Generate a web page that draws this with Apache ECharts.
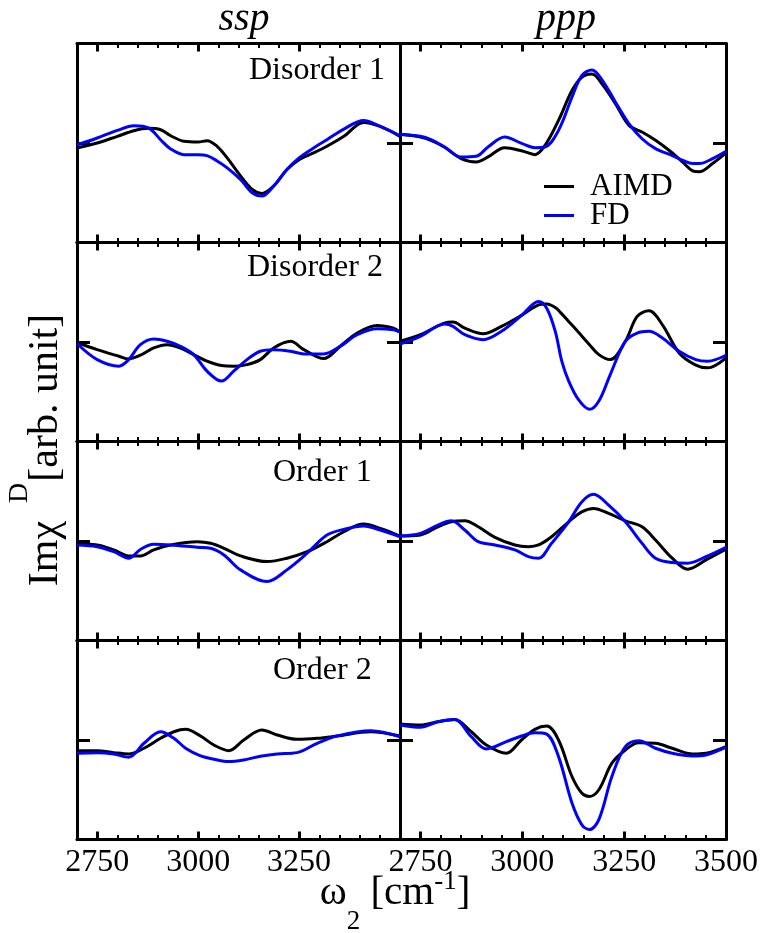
<!DOCTYPE html>
<html>
<head>
<meta charset="utf-8">
<script src="https://cdn.jsdelivr.net/npm/echarts@6/dist/echarts.min.js"></script>
<style>
html, body { margin: 0; padding: 0; background: #fff; }
#chart { width: 761px; height: 933px; }
</style>
</head>
<body>
<div id="chart"></div>
<script>
// ---- spectra: wavenumber (cm^-1) and Im chi(D) in arbitrary units ----
// ssp column
const sspDis1X    = [2700, 2750, 2800, 2841, 2878, 2907, 2932, 2965, 3000, 3022, 3047, 3072, 3105, 3134, 3158, 3187, 3220, 3250, 3286, 3319, 3361, 3410, 3451, 3500];
const sspDis1Aimd = [-5, 0, 6.7, 12.3, 14.7, 13.3, 7.3, 1.7, 1, 2.3, -3.3, -15, -33, -46.7, -50.7, -43.3, -26.7, -16.7, -10, -3.3, 6.7, 20.7, 16.7, 6.7];
const sspDis1Fd   = [-2, 5, 12.7, 17.3, 15, 3.3, -6, -11.7, -11.7, -12.7, -18, -25, -36.7, -50, -53.3, -43.3, -26.7, -15, -5, 3.3, 14, 22.7, 16.7, 7.3];

const sspDis2X    = [2700, 2750, 2804, 2828, 2857, 2890, 2923, 2956, 2989, 3022, 3058, 3088, 3121, 3154, 3187, 3229, 3262, 3311, 3352, 3394, 3443, 3484, 3500];
const sspDis2Aimd = [-0.5, -7.7, -14.3, -17, -13.3, -6, -2.7, -6, -12.7, -19.3, -23.7, -24.3, -22.7, -17.7, -6, 0.7, -7.7, -16.7, -4.3, 9, 16.7, 14, 10];
const sspDis2Fd   = [-1.5, -17.7, -24.3, -17.7, -2.7, 3, 0.7, -4.3, -12.7, -29.3, -39.3, -29.3, -17.7, -9.3, -7.7, -9.3, -12, -12, -4.3, 7.3, 13.3, 12.3, 10];

const sspOrd1X    = [2700, 2750, 2791, 2828, 2857, 2890, 2932, 2998, 3031, 3064, 3105, 3171, 3220, 3270, 3319, 3361, 3410, 3451, 3500];
const sspOrd1Aimd = [-3, -4, -9, -15, -15, -9, -4, -0.7, -2.3, -7.3, -15, -20.7, -17.3, -10.7, -0.7, 9.3, 17, 12.7, 5];
const sspOrd1Fd   = [-4, -5.7, -10.7, -17.3, -8.5, -3.3, -4, -6.3, -7.3, -14, -29, -40.7, -29, -12.3, 6, 11.7, 15, 11, 4.3];

const sspOrd2X    = [2700, 2750, 2791, 2828, 2866, 2907, 2940, 2969, 3006, 3039, 3076, 3113, 3158, 3196, 3245, 3295, 3344, 3427, 3500];
const sspOrd2Aimd = [-10.7, -10.7, -12.7, -14, -8.3, 1.7, 8.3, 10.7, 4, -5, -10.7, 0, 10, 5, 0.7, 1.7, 4, 8.3, 4];
const sspOrd2Fd   = [-13.3, -12.7, -14, -17.3, -3.3, 8.3, 1.7, -8.3, -16, -19.3, -21.7, -20, -16, -14, -12.7, -3.3, 4, 9.3, 3.3];

// ppp column
const pppDis1X    = [2700, 2750, 2776, 2809, 2850, 2887, 2916, 2957, 3000, 3031, 3056, 3089, 3122, 3146, 3171, 3196, 3229, 3262, 3294, 3327, 3360, 3393, 3418, 3434, 3467, 3500];
const pppDis1Aimd = [8.7, 6, 2.7, -4, -15.7, -19, -14, -4.7, -8, -11.7, -2.3, 22.7, 52.7, 66, 69.3, 59.3, 39.3, 17.7, 11, 2.7, -7.3, -19, -28, -29, -20.7, -10];
const pppDis1Fd   = [8.7, 6.7, 3.3, -4, -14, -13.3, -4, 6, -0.7, -4.7, -4, 12.7, 46, 67.7, 73.3, 63.3, 41, 19.3, 4.3, -5.7, -11.3, -17.3, -20.7, -20.7, -15.7, -8.3];

const pppDis2X    = [2700, 2750, 2809, 2830, 2859, 2904, 2949, 3000, 3040, 3060, 3081, 3097, 3114, 3138, 3165, 3188, 3216, 3253, 3282, 3311, 3344, 3385, 3426, 3455, 3500];
const pppDis2Aimd = [0.7, 7.3, 19, 20, 14, 8.3, 15.7, 27.3, 37.3, 38.3, 34.7, 28.3, 20.7, 9.7, -2.7, -12.7, -17.7, 0.7, 25.7, 31.3, 17.3, -11, -23.3, -26, -16];
const pppDis2Fd   = [-2, 5.7, 18, 15.7, 7.3, 2.3, 10.7, 27.3, 40.7, 34, 10.7, -19.3, -39.3, -58, -67.7, -59.3, -32.7, 0.7, 9, 10.7, 4, -9.3, -17.7, -19.3, -13.3];

const pppOrd1X    = [2700, 2750, 2793, 2826, 2859, 2892, 2933, 2982, 3015, 3040, 3072, 3114, 3146, 3175, 3212, 3253, 3294, 3327, 3368, 3406, 3451, 3500];
const pppOrd1Aimd = [5, 6, 14.3, 19.3, 20.3, 14.3, 3.7, -4, -5.7, -4, 4.3, 19.3, 29.3, 32.7, 27.7, 20.3, 14.3, 1, -17.3, -28.3, -19, -8.3];
const pppOrd1Fd   = [5, 7.7, 16, 20.3, 11, -0.7, -4, -9, -15.7, -17.3, -2.3, 19.3, 39.3, 47, 36, 19.3, -2.3, -17.3, -21.7, -22.3, -15.7, -6.3];

const pppOrd2X    = [2700, 2750, 2793, 2834, 2875, 2912, 2961, 2998, 3031, 3060, 3089, 3122, 3146, 3165, 3188, 3220, 3253, 3286, 3327, 3368, 3418, 3451, 3500];
const pppOrd2Aimd = [16, 15, 18.3, 20.7, 8.3, -5, -13.3, 0, 10.7, 14, 0, -36.7, -53.3, -56.7, -50, -23.3, -10, -2.7, -3.3, -8.3, -14, -13.3, -6.7];
const pppOrd2Fd   = [15, 12.7, 18.3, 20.7, 3.3, -9, -1.7, 4, 7.3, 6, -16.7, -63.3, -85, -90, -80, -36.7, -6.7, -0.7, -8.3, -13.3, -16, -15, -7.3];

// ---- axis ticks and texts ----
const xMin = 2700, xMax = 3500, xMinorStep = 50;
const xMajorTicks = [2750, 3000, 3250, 3500];
const xLabelsLeft = [2750, 3000, 3250];
const xLabelsRight = [2750, 3000, 3250, 3500];
const yMin = -100, yMax = 100;
const yTicks = [0];
const columnTitles = ['ssp', 'ppp'];
const panelNames = ['Disorder 1', 'Disorder 2', 'Order 1', 'Order 2'];
const seriesNames = ['AIMD', 'FD'];
// axis titles as [text, role] pieces: m = main, u = superscript, d = subscript
const yTitlePieces = [['Imχ', 'm'], ['D', 'u'], ['[arb. unit]', 'm']];
const xTitlePieces = [['ω', 'm'], ['2', 'd'], [' [cm', 'm'], ['-1', 'u'], [']', 'm']];

// panels in row order, [ssp, ppp] per row
const panels = [
  [{ x: sspDis1X, a: sspDis1Aimd, f: sspDis1Fd }, { x: pppDis1X, a: pppDis1Aimd, f: pppDis1Fd }],
  [{ x: sspDis2X, a: sspDis2Aimd, f: sspDis2Fd }, { x: pppDis2X, a: pppDis2Aimd, f: pppDis2Fd }],
  [{ x: sspOrd1X, a: sspOrd1Aimd, f: sspOrd1Fd }, { x: pppOrd1X, a: pppOrd1Aimd, f: pppOrd1Fd }],
  [{ x: sspOrd2X, a: sspOrd2Aimd, f: sspOrd2Fd }, { x: pppOrd2X, a: pppOrd2Aimd, f: pppOrd2Fd }]
];

// ---- layout ----
const SERIF = '"Liberation Serif", "Times New Roman", Times, serif';
const colLeft = [77, 400];
const colWidth = [323, 326];
const rowTop = [43.5, 242.5, 441.5, 640.5];
const rowHeight = 199;
const labelPos = [[249, 71], [247, 267.5], [273, 472.5], [273, 671]];
const AIMD_COLOR = '#000000';
const FD_COLOR = '#0000ff';
const MID = 0.3375; // distance from text middle to baseline, in em

const zip = (xs, ys) => xs.map((v, i) => [v, ys[i]]);

const measureCtx = document.createElement('canvas').getContext('2d');
function textWidth(text, font) {
  measureCtx.font = font;
  return measureCtx.measureText(text).width;
}

// lays pieces along a baseline starting at local x = 0; returns children and total length
function titlePieces(pieces, sizes, shifts, gaps) {
  const children = [];
  let pos = 0;
  pieces.forEach(([txt, role], i) => {
    const fs = sizes[role];
    const font = fs + 'px ' + SERIF;
    pos += (gaps && gaps[i]) || 0;
    children.push({
      type: 'text', x: pos, y: shifts[role] - MID * fs,
      style: { text: txt, font: font, fill: '#000', align: 'left', verticalAlign: 'middle' }
    });
    pos += textWidth(txt, font);
  });
  return { children, length: pos };
}

const grids = [], xAxes = [], yAxes = [], series = [], graphics = [];

for (let r = 0; r < 4; r++) {
  for (let c = 0; c < 2; c++) {
    const rect = { left: colLeft[c], width: colWidth[c], top: rowTop[r], height: rowHeight };

    // main grid: frame, minor ticks, zero ticks, curves
    const g = grids.length;
    grids.push(Object.assign({ containLabel: false }, rect));
    const minorX = pos => ({
      gridIndex: g, type: 'value', position: pos, min: xMin, max: xMax, interval: xMinorStep,
      axisLine: { show: true, onZero: false, lineStyle: { color: '#000', width: 3 } },
      axisTick: { show: true, inside: true, length: 4.5, lineStyle: { color: '#000', width: 2 } },
      axisLabel: { show: false }, splitLine: { show: false }
    });
    const xi = xAxes.length;
    xAxes.push(minorX('bottom'));
    xAxes.push(minorX('top'));
    const zeroY = pos => ({
      gridIndex: g, type: 'value', position: pos, min: yMin, max: yMax,
      axisLine: { show: true, onZero: false, lineStyle: { color: '#000', width: 3 } },
      axisTick: { show: true, inside: true, length: 13, customValues: yTicks, lineStyle: { color: '#000', width: 3 } },
      axisLabel: { show: false }, splitLine: { show: false }
    });
    const yi = yAxes.length;
    yAxes.push(zeroY('left'));
    yAxes.push(zeroY('right'));

    const p = panels[r][c];
    series.push({
      type: 'line', name: seriesNames[0], xAxisIndex: xi, yAxisIndex: yi,
      data: zip(p.x, p.a), smooth: 0.35, symbol: 'none', showSymbol: false, clip: true,
      lineStyle: { color: AIMD_COLOR, width: 3 }, itemStyle: { color: AIMD_COLOR }, z: 2
    });
    series.push({
      type: 'line', name: seriesNames[1], xAxisIndex: xi, yAxisIndex: yi,
      data: zip(p.x, p.f), smooth: 0.35, symbol: 'none', showSymbol: false, clip: true,
      lineStyle: { color: FD_COLOR, width: 3 }, itemStyle: { color: FD_COLOR }, z: 3
    });

    // overlay grid: major ticks and tick labels
    const h = grids.length;
    grids.push(Object.assign({ containLabel: false }, rect));
    const majorX = (pos, labels) => ({
      gridIndex: h, type: 'value', position: pos, min: xMin, max: xMax,
      axisLine: { show: false, onZero: false },
      axisTick: { show: true, inside: true, length: 8, customValues: xMajorTicks, lineStyle: { color: '#000', width: 3 } },
      axisLabel: labels ? {
        show: true, customValues: labels, margin: 7, color: '#000',
        fontFamily: SERIF, fontSize: 32, formatter: v => String(v)
      } : { show: false },
      splitLine: { show: false }
    });
    xAxes.push(majorX('bottom', r === 3 ? (c === 0 ? xLabelsLeft : xLabelsRight) : null));
    xAxes.push(majorX('top', null));
    yAxes.push({ gridIndex: h, type: 'value', min: yMin, max: yMax, show: false });

    if (c === 0) {
      graphics.push({
        type: 'text', x: labelPos[r][0], y: labelPos[r][1],
        style: { text: panelNames[r], font: '32px ' + SERIF, fill: '#000', align: 'left', verticalAlign: 'middle' }
      });
    }
  }
}

// column titles
graphics.push({ type: 'text', x: 244, y: 19,
  style: { text: columnTitles[0], font: 'italic 40px ' + SERIF, fill: '#000', align: 'center', verticalAlign: 'middle' } });
graphics.push({ type: 'text', x: 566, y: 19,
  style: { text: columnTitles[1], font: 'italic 40px ' + SERIF, fill: '#000', align: 'center', verticalAlign: 'middle' } });

// y axis title, reading upwards; baseline at x = 60, centred on y = 450
const yt = titlePieces(yTitlePieces, { m: 42, u: 28 }, { m: 0, u: -31 }, [0, 18, 1]);
yt.children.forEach(ch => { ch.x -= yt.length / 2; });
graphics.push({ type: 'group', x: 60, y: 450, rotation: Math.PI / 2, children: yt.children });

// x axis title, baseline at y = 907, centred on x = 395
const xt = titlePieces(xTitlePieces, { m: 41, u: 27, d: 27 }, { m: 0, u: -16, d: 24 });
graphics.push({ type: 'group', x: 395 - xt.length / 2, y: 907, children: xt.children });

const chart = echarts.init(document.getElementById('chart'), null, { renderer: 'canvas' });
chart.setOption({
  animation: false,
  backgroundColor: '#fff',
  textStyle: { fontFamily: SERIF, color: '#000' },
  legend: {
    data: seriesNames, orient: 'vertical', left: 544, top: 171, padding: 0,
    icon: 'rect', itemWidth: 30, itemHeight: 3, itemGap: -2,
    textStyle: { fontFamily: SERIF, fontSize: 31, color: '#000', padding: [0, 0, 0, 11] },
    selectedMode: false
  },
  grid: grids,
  xAxis: xAxes,
  yAxis: yAxes,
  series: series,
  graphic: graphics
});
</script>
</body>
</html>
